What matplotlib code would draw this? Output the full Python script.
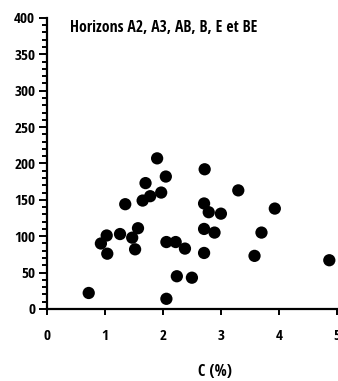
import matplotlib
matplotlib.use("Agg")
import matplotlib.pyplot as plt
from matplotlib.ticker import MultipleLocator
from matplotlib import font_manager

carbon = [0.72, 0.93, 1.03, 1.04, 1.26, 1.35, 1.47, 1.52, 1.57, 1.65, 1.70,
          1.78, 1.90, 1.97, 2.05, 2.06, 2.06, 2.22, 2.24, 2.38, 2.50, 2.71,
          2.72, 2.71, 2.71, 2.79, 2.89, 3.00, 3.30, 3.58, 3.70, 3.93, 4.87]
values = [22, 90, 101, 76, 103, 144, 98, 82, 111, 149, 173,
          155, 207, 160, 182, 92, 14, 92, 45, 83, 43, 145,
          192, 110, 77, 133, 105, 131, 163, 73, 105, 138, 67]
x_ticks = [0, 1, 2, 3, 4, 5]
y_ticks = [0, 50, 100, 150, 200, 250, 300, 350, 400]
title = "Horizons A2, A3, AB, B, E et BE"
xlabel = "C (%)"

names = {f.name for f in font_manager.fontManager.ttflist}
fam = None
for cand in ['Liberation Sans Narrow', 'DejaVu Sans Condensed', 'Open Sans Condensed', 'Roboto Condensed']:
    if cand in names:
        fam = cand
        break
if fam is None:
    fam = 'DejaVu Sans'
    scale = 0.86
else:
    scale = 1.0
plt.rcParams['font.family'] = [fam, 'DejaVu Sans']

fig = plt.figure(figsize=(3.38, 3.81), dpi=100)
ax = fig.add_axes([0.139, 0.189, 0.861, 0.764])
ax.scatter(carbon, values, s=78, color='black', edgecolors='none', zorder=3, clip_on=False)

ax.set_xlim(0, 5.02)
ax.set_ylim(0, 400)
ax.set_xticks(x_ticks)
ax.set_yticks(y_ticks)
ax.yaxis.set_minor_locator(MultipleLocator(10))
for s in ['top', 'right']:
    ax.spines[s].set_visible(False)
for s in ['left', 'bottom']:
    ax.spines[s].set_linewidth(1.6)
ax.tick_params(axis='y', which='major', direction='out', length=5.5, width=1.4,
               labelsize=11 * scale, pad=3)
ax.tick_params(axis='y', which='minor', direction='out', length=3.5, width=1.4)
ax.tick_params(axis='x', which='major', direction='out', length=4.5, width=1.4,
               labelsize=11 * scale, pad=10)
for lab in ax.get_xticklabels() + ax.get_yticklabels():
    lab.set_fontweight('semibold')

ax.text(0.08, 0.966, title, transform=ax.transAxes, fontsize=11.3 * scale,
        ha='left', va='center', fontweight='normal')
ax.set_xlabel(xlabel, fontsize=11.5 * scale, fontweight='semibold')
ax.xaxis.set_label_coords(0.578, -0.19)

fig.savefig("out.png", dpi=100)
